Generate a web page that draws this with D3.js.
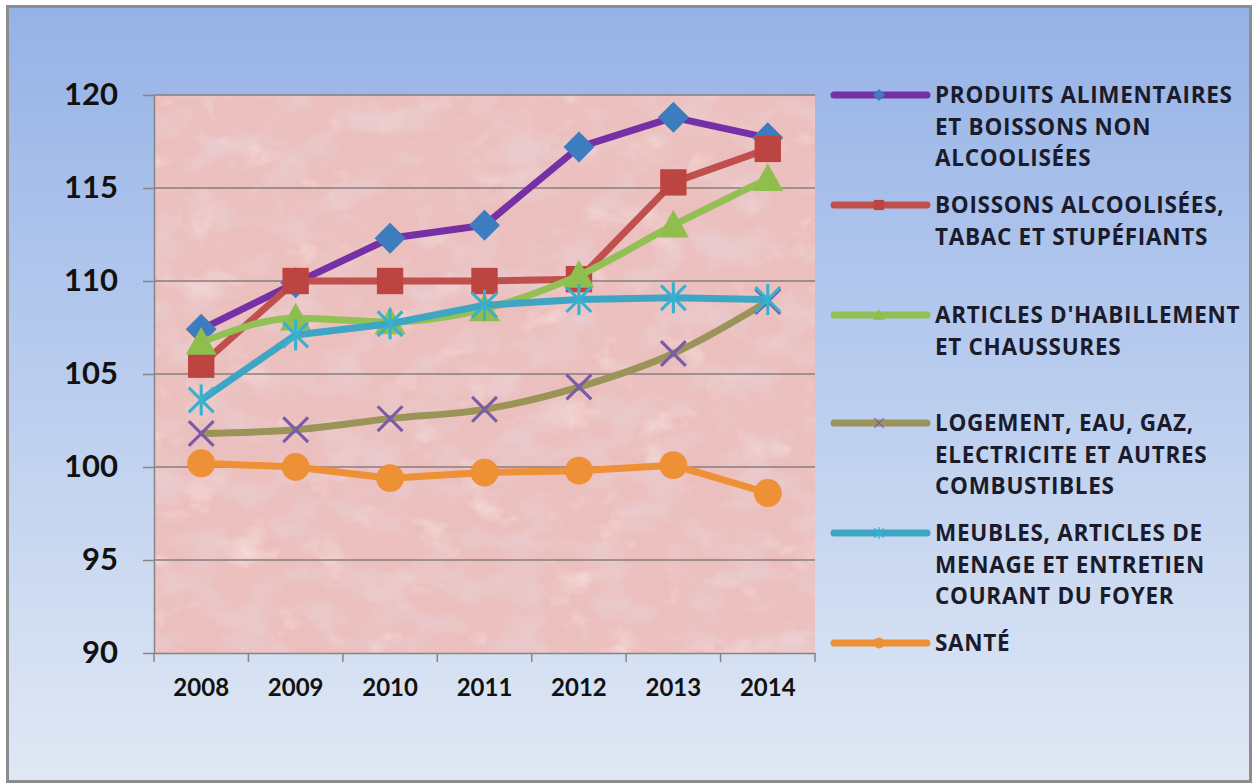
<!DOCTYPE html>
<html>
<head>
<meta charset="utf-8">
<script src="https://cdn.jsdelivr.net/npm/d3@7"></script>
<style>
  body { margin: 0; background: #ffffff; }
  svg { display: block; }
</style>
</head>
<body>
<svg width="1257" height="783"></svg>
<script>
// données
let annees = ["2008", "2009", "2010", "2011", "2012", "2013", "2014"];

let alimentaires = [107.4, 109.9, 112.3, 113.0, 117.2, 118.8, 117.7];
let alcool = [105.5, 110.0, 110.0, 110.0, 110.1, 115.3, 117.1];
let habillement = [106.7, 108.0, 107.8, 108.5, 110.3, 113.0, 115.5];
let logement = [101.8, 102.0, 102.6, 103.1, 104.3, 106.1, 108.9];
let meubles = [103.6, 107.1, 107.7, 108.7, 109.0, 109.1, 109.0];
let sante = [100.2, 100.0, 99.4, 99.7, 99.8, 100.1, 98.6];

let graduations = [90, 95, 100, 105, 110, 115, 120];

let libelles = [
    ["PRODUITS ALIMENTAIRES", "ET BOISSONS NON", "ALCOOLISÉES"],
    ["BOISSONS ALCOOLISÉES,", "TABAC ET STUPÉFIANTS"],
    ["ARTICLES D'HABILLEMENT", "ET CHAUSSURES"],
    ["LOGEMENT, EAU, GAZ,", "ELECTRICITE ET AUTRES", "COMBUSTIBLES"],
    ["MEUBLES, ARTICLES DE", "MENAGE ET ENTRETIEN", "COURANT DU FOYER"],
    ["SANTÉ"]
];

// styles des séries
let series = [
    {valeurs: alimentaires, ligne: "#7530a6", marque: "#3d7dbf", forme: "losange", lisse: false},
    {valeurs: alcool, ligne: "#c0504d", marque: "#bd4541", forme: "carre", lisse: false},
    {valeurs: habillement, ligne: "#93c054", marque: "#8fbe4f", forme: "triangle", lisse: true},
    {valeurs: logement, ligne: "#9a9458", marque: "#7a5ba6", forme: "croix", lisse: true},
    {valeurs: meubles, ligne: "#3fa5c4", marque: "#3ab0cf", forme: "etoile", lisse: false},
    {valeurs: sante, ligne: "#ee9036", marque: "#ee9036", forme: "rond", lisse: false}
];
series.forEach((s, i) => s.nom = libelles[i]);

let svg = d3.select("svg");
let defs = svg.append("defs");

// fond dégradé bleu
let deg = defs.append("linearGradient")
    .attr("id", "fondBleu")
    .attr("x1", 0).attr("y1", 0).attr("x2", 0).attr("y2", 1);
deg.append("stop").attr("offset", "0%").attr("stop-color", "#95b2e6");
deg.append("stop").attr("offset", "45%").attr("stop-color", "#b7cbee");
deg.append("stop").attr("offset", "100%").attr("stop-color", "#e0e8f4");

// texture rose de la zone de tracé
let filtre = defs.append("filter")
    .attr("id", "texture")
    .attr("x", 0).attr("y", 0).attr("width", 1).attr("height", 1);
filtre.append("feTurbulence")
    .attr("type", "fractalNoise")
    .attr("baseFrequency", "0.022 0.03")
    .attr("numOctaves", 4)
    .attr("seed", 11)
    .attr("result", "bruit");
filtre.append("feColorMatrix")
    .attr("in", "bruit")
    .attr("type", "matrix")
    .attr("values", "0 0 0 0 0.82  0 0 0 0 0.6  0 0 0 0 0.62  2.2 0 0 0 -0.92")
    .attr("result", "taches");
filtre.append("feColorMatrix")
    .attr("in", "bruit")
    .attr("type", "matrix")
    .attr("values", "0 0 0 0 0.95  0 0 0 0 0.8  0 0 0 0 0.79  0 -2 0 0 0.8")
    .attr("result", "clair");
filtre.append("feMerge").call(m => {
    m.append("feMergeNode").attr("in", "SourceGraphic");
    m.append("feMergeNode").attr("in", "clair");
    m.append("feMergeNode").attr("in", "taches");
});

svg.append("rect")
    .attr("x", 7.5).attr("y", 6.5)
    .attr("width", 1243).attr("height", 775)
    .attr("fill", "url(#fondBleu)")
    .attr("stroke", "#8d8d8d")
    .attr("stroke-width", 3);

// échelles
let x = d3.scaleBand().domain(annees).range([154, 815]);
let y = d3.scaleLinear().domain([90, 120]).range([653, 95]);
let cx = d => x(d) + x.bandwidth() / 2;

svg.append("rect")
    .attr("x", 154).attr("y", 95)
    .attr("width", 815 - 154).attr("height", 653 - 95)
    .attr("fill", "#ebbfbd")
    .attr("filter", "url(#texture)");

// quadrillage
svg.append("g")
    .selectAll("line")
    .data(graduations.slice(1))
    .join("line")
    .attr("x1", 154).attr("x2", 815)
    .attr("y1", d => y(d)).attr("y2", d => y(d))
    .attr("stroke", "#8a7c7e")
    .attr("stroke-width", 1.5);

// axe vertical
let axeY = svg.append("g")
    .attr("transform", "translate(154,0)")
    .call(d3.axisLeft(y).tickValues(graduations).tickSize(11).tickPadding(25).tickSizeOuter(0));
axeY.select(".domain").attr("stroke", "#858585").attr("stroke-width", 1.5);
axeY.selectAll(".tick line").attr("stroke", "#858585").attr("stroke-width", 1.5);
axeY.selectAll("text")
    .attr("font-family", "Lato, 'Open Sans', sans-serif")
    .attr("font-weight", "bold")
    .attr("font-size", 31)
    .attr("fill", "#111111");

// axe horizontal
let axeX = svg.append("g")
    .attr("transform", "translate(0,653)")
    .call(d3.axisBottom(x).tickSize(0).tickSizeOuter(0));
axeX.select(".domain").attr("stroke", "#858585").attr("stroke-width", 1.5);
axeX.selectAll("text")
    .attr("y", 35)
    .attr("dy", "0.35em")
    .attr("font-family", "Lato, 'Open Sans', sans-serif")
    .attr("font-weight", "bold")
    .attr("font-size", 24)
    .attr("fill", "#111111");
axeX.selectAll("line.sep")
    .data(annees.map(d => x(d)).concat([x.range()[1]]))
    .join("line")
    .attr("class", "sep")
    .attr("x1", d => d).attr("x2", d => d)
    .attr("y1", 0).attr("y2", 9)
    .attr("stroke", "#858585")
    .attr("stroke-width", 1.5);

// formes des marqueurs
function dessinMarque(g, forme, couleur, t) {
    let h = t / 2;
    if (forme == "losange") {
        g.append("path").attr("d", `M0,${-h}L${h},0L0,${h}L${-h},0Z`).attr("fill", couleur);
    } else if (forme == "carre") {
        g.append("rect").attr("x", -h * 0.85).attr("y", -h * 0.85)
            .attr("width", h * 1.7).attr("height", h * 1.7).attr("fill", couleur);
    } else if (forme == "triangle") {
        g.append("path").attr("d", `M0,${-h}L${h},${h * 0.8}L${-h},${h * 0.8}Z`).attr("fill", couleur);
    } else if (forme == "rond") {
        g.append("circle").attr("r", h * 0.9).attr("fill", couleur);
    } else if (forme == "croix") {
        let k = h * 0.8;
        g.append("path").attr("d", `M${-k},${-k}L${k},${k}M${k},${-k}L${-k},${k}`)
            .attr("stroke", couleur).attr("stroke-width", t / 10);
    } else if (forme == "etoile") {
        let k = h * 0.8;
        g.append("path").attr("d", `M${-k},${-k}L${k},${k}M${k},${-k}L${-k},${k}M0,${-h}L0,${h}`)
            .attr("stroke", couleur).attr("stroke-width", t / 10);
    }
}

// courbes
series.forEach(function (s) {
    let ligne = d3.line()
        .x((d, i) => cx(annees[i]))
        .y(d => y(d))
        .curve(s.lisse ? d3.curveMonotoneX : d3.curveLinear);

    svg.append("path")
        .datum(s.valeurs)
        .attr("d", ligne)
        .attr("fill", "none")
        .attr("stroke", s.ligne)
        .attr("stroke-width", 7)
        .attr("stroke-linejoin", "round");

    svg.append("g")
        .selectAll("g")
        .data(s.valeurs)
        .join("g")
        .attr("transform", (d, i) => `translate(${cx(annees[i])},${y(d)})`)
        .each(function () {
            dessinMarque(d3.select(this), s.forme, s.marque, 31);
        });
});

// légende
let hautLegende = [95, 205, 315, 423, 533, 643];
let legende = svg.append("g");
series.forEach(function (s, i) {
    let g = legende.append("g").attr("transform", `translate(0,${hautLegende[i]})`);
    g.append("line")
        .attr("x1", 834).attr("x2", 927)
        .attr("y1", 0).attr("y2", 0)
        .attr("stroke", s.ligne)
        .attr("stroke-width", 7)
        .attr("stroke-linecap", "round");
    let m = g.append("g").attr("transform", "translate(879,0)");
    dessinMarque(m, s.forme, s.marque, 12);
    g.append("text")
        .attr("x", 935)
        .attr("font-family", "'Open Sans', Lato, sans-serif")
        .attr("font-weight", 700)
        .attr("font-size", 22.5)
        .attr("letter-spacing", 0.7)
        .attr("fill", "#1b1b2b")
        .selectAll("tspan")
        .data(s.nom)
        .join("tspan")
        .attr("x", 935)
        .attr("y", (d, j) => j * 31.5)
        .attr("dy", "0.36em")
        .text(d => d);
});
</script>
</body>
</html>
